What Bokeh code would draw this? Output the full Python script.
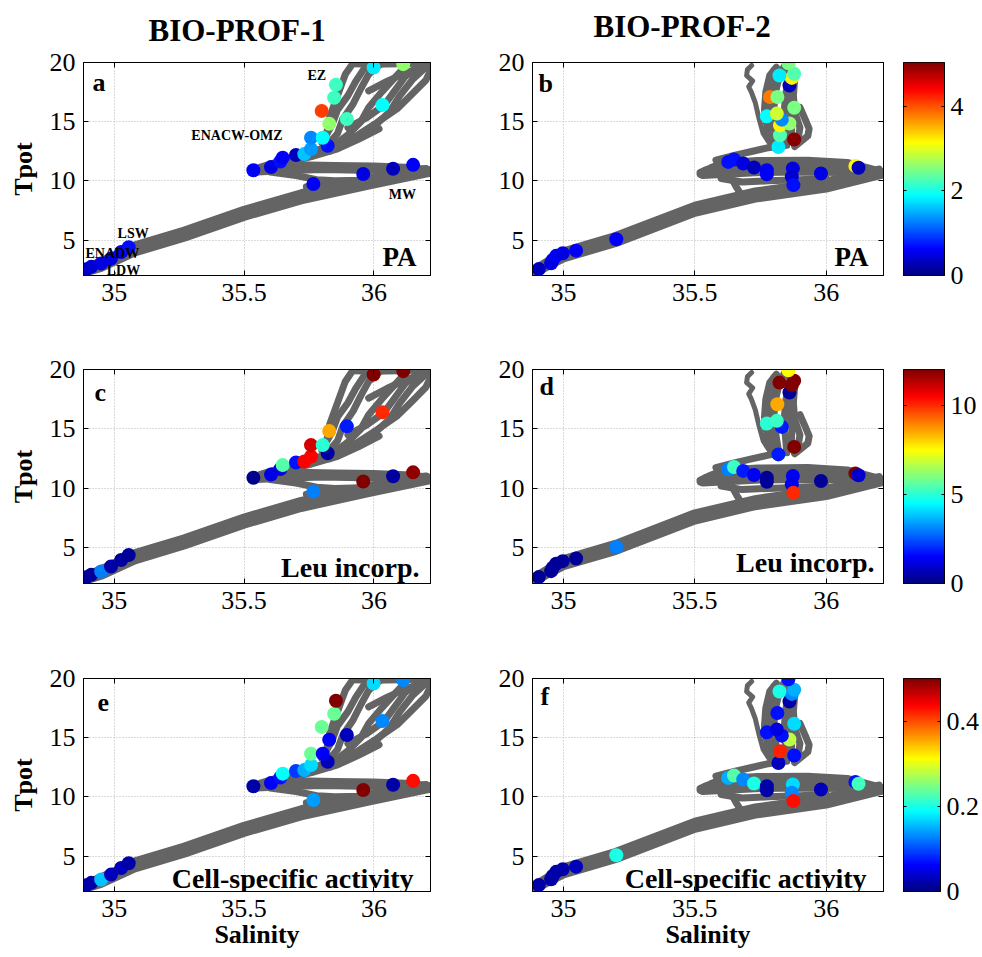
import numpy as np
from bokeh.plotting import figure
from bokeh.models import (Range1d, FixedTicker, LinearAxis, Label, ColumnDataSource,
                          LinearColorMapper, CustomJSTickFormatter, Title)
from bokeh.layouts import row, column
from bokeh.transform import linear_cmap
from bokeh.embed import file_html
from bokeh.resources import INLINE

nan = float("nan")
FONT = "Liberation Serif"

# ---------------- data: discrete samples ----------------
prof1_sal = [34.892, 34.912, 34.950, 34.988, 35.027, 35.056, 35.536, 35.604, 35.640, 35.649,
             35.700, 35.732, 35.758, 35.822, 35.758, 35.803, 35.896, 35.828, 35.799, 36.033,
             35.847, 35.854, 35.999, 36.113, 35.767, 35.959, 36.074, 36.151]
prof1_tpot = [2.52, 2.73, 3.01, 3.43, 3.98, 4.39, 10.89, 11.16, 11.63, 11.96,
              12.18, 12.26, 12.68, 12.96, 13.64, 13.64, 15.22, 14.83, 15.91, 16.40,
              17.02, 18.12, 19.58, 19.86, 9.73, 10.58, 11.02, 11.35]
prof1_pa = [0.3, 0.4, 0.5, 0.5, 0.6, 0.7, 0.6, 0.5, 0.7, 0.6,
            0.3, 1.6, 1.4, 0.7, 1.3, 1.9, 2.2, 2.6, 4.1, 1.9,
            2.2, 2.2, 1.8, 2.6, 0.6, 0.5, 0.3, 0.6]
prof1_leu = [0.3, 0.3, 3.0, 0.5, 0.4, 0.3, 0.2, 1.2, 1.2, 5.5,
             1.7, 10.5, 10.5, 0.4, 11.0, 5.0, 1.8, 8.5, nan, 10.0,
             nan, nan, 12.0, 12.0, 3.0, 12.0, 0.4, 11.8]
prof1_csa = [0.02, 0.02, 0.16, 0.03, 0.03, 0.02, 0.02, 0.06, 0.07, 0.19,
             0.09, 0.15, 0.17, 0.03, 0.24, 0.06, 0.03, 0.06, 0.24, 0.13,
             0.24, 0.50, 0.17, 0.13, 0.14, 0.50, 0.02, 0.43]

prof2_sal = [34.906, 34.953, 34.959, 34.972, 34.997, 35.048, 35.201, 35.627, 35.649, 35.684,
             35.725, 35.774, 35.774, 35.873, 35.869, 35.875, 35.980, 36.111, 36.123, 35.818,
             35.878, 35.824, 35.824, 35.860, 35.831, 35.774, 35.812, 35.878, 35.786, 35.814,
             35.860, 35.869, 35.822, 35.878, 35.856]
prof2_tpot = [2.54, 3.04, 3.32, 3.66, 3.88, 4.10, 5.06, 11.60, 11.80, 11.47,
              11.13, 10.90, 10.56, 11.04, 10.34, 9.64, 10.62, 11.26, 11.10, 12.86,
              13.49, 13.85, 14.69, 14.84, 15.17, 15.45, 15.68, 16.18, 17.08, 17.08,
              18.06, 18.70, 18.90, 19.05, 19.94]
prof2_pa = [0.3, 0.5, 0.5, 0.6, 0.5, 0.6, 0.6, 0.7, 0.7, 0.5,
            0.3, 0.6, 0.6, 0.5, 0.4, 0.7, 0.5, 3.2, 0.3, 1.8,
            5.0, 2.3, 3.2, 2.6, 1.3, 1.9, 2.9, 2.5, 3.8, 2.5,
            0.3, 3.2, 1.8, 2.3, 2.5]
prof2_leu = [0.3, 0.3, 0.3, 0.3, 0.3, 0.3, 3.0, 3.0, 5.2, 1.8,
             1.4, 0.3, 0.3, 1.4, 1.3, 10.0, 0.3, 12.0, 0.9, 1.8,
             12.0, nan, nan, nan, 1.8, 5.0, 5.2, nan, nan, 8.5,
             0.3, 12.0, 12.0, 12.0, 7.5]
prof2_csa = [0.02, 0.02, 0.02, 0.02, 0.02, 0.03, 0.20, 0.15, 0.23, 0.13,
             0.20, 0.02, 0.02, 0.17, 0.13, 0.43, 0.03, 0.07, 0.22, 0.03,
             0.07, 0.42, nan, 0.28, 0.07, 0.07, 0.05, 0.17, nan, 0.07,
             0.02, 0.13, 0.20, 0.15, 0.07]

# ---------------- data: continuous CTD profiles (traced) ----------------
deep1_sal = [
    [34.89, 34.95, 35.08, 35.27, 35.50, 35.72, 35.98, 36.21],
    [34.90, 34.96, 35.08, 35.27, 35.50, 35.72, 35.98, 36.20],
]
deep1_tpot = [
    [2.25, 2.65, 3.95, 5.20, 6.95, 8.35, 9.60, 10.65],
    [2.75, 3.30, 4.55, 5.80, 7.55, 8.95, 10.20, 11.00],
]
ctd1_sal = [
    [35.54, 35.60, 35.70, 35.85, 36.00, 36.12, 36.21],
    [35.55, 35.65, 35.80, 35.95, 36.10, 36.21],
    [35.60, 35.70, 35.78, 35.85, 35.95, 36.05, 36.15],
    [35.74, 35.82, 35.92],
    [35.56, 35.62, 35.70, 35.78, 35.85],
    [35.66, 35.76, 35.86, 35.94, 36.02],
    [35.80, 35.82, 35.83, 35.85, 35.87, 35.89, 35.92],
    [35.81, 35.84, 35.86, 35.90, 35.93, 35.96, 36.00],
    [35.82, 35.86, 35.88, 35.92, 35.95, 35.98, 36.03],
    [35.84, 35.90, 35.95, 35.98, 36.03, 36.08, 36.13],
    [35.86, 35.95, 36.00, 36.06, 36.10, 36.15, 36.21],
    [35.90, 35.97, 36.04, 36.08, 36.12, 36.17],
    [35.83, 35.94, 36.01, 36.09, 36.15, 36.20, 36.22],
    [35.98, 36.05, 36.12, 36.18, 36.22],
    [35.92, 36.00, 36.10, 36.20],
]
ctd1_tpot = [
    [10.95, 11.25, 11.35, 11.30, 11.25, 11.15, 10.95],
    [10.75, 10.85, 10.95, 10.90, 10.85, 10.80],
    [10.75, 10.45, 10.10, 10.00, 10.05, 10.30, 10.55],
    [9.50, 9.75, 10.00],
    [11.15, 11.55, 12.05, 12.60, 13.00],
    [11.55, 12.05, 12.70, 13.50, 14.40],
    [13.20, 14.20, 15.40, 16.60, 17.80, 19.00, 19.95],
    [13.60, 14.80, 16.00, 17.20, 18.40, 19.40, 19.95],
    [13.00, 14.00, 15.20, 16.50, 17.80, 19.00, 19.95],
    [12.90, 13.90, 15.00, 16.20, 17.50, 18.70, 19.90],
    [12.80, 13.80, 14.60, 15.80, 17.20, 18.60, 19.80],
    [14.50, 15.30, 16.40, 17.60, 18.80, 19.60],
    [12.50, 13.90, 14.90, 16.10, 17.40, 18.50, 19.40],
    [17.60, 18.40, 19.10, 19.60, 19.90],
    [19.90, 19.85, 19.90, 19.95],
]
deep2_sal = [
    [34.89, 35.00, 35.20, 35.50, 35.73, 36.00, 36.21],
    [34.91, 35.00, 35.20, 35.50, 35.73, 36.00, 36.20],
]
deep2_tpot = [
    [2.20, 3.45, 4.75, 7.30, 8.50, 9.35, 10.50],
    [2.80, 4.05, 5.35, 7.90, 9.10, 9.95, 10.95],
]
ctd2_sal = [
    [35.52, 35.56, 35.61, 35.74, 35.93, 36.08, 36.16, 36.21],
    [35.54, 35.65, 35.80, 35.95, 36.10],
    [35.52, 35.60, 35.75, 35.90, 36.05, 36.18],
    [35.53, 35.62, 35.75, 35.90, 36.05, 36.20],
    [35.60, 35.68, 35.78, 35.90, 36.00],
    [35.64, 35.66, 35.68],
    [35.58, 35.65, 35.72, 35.78, 35.84],
    [35.79, 35.775, 35.765, 35.77, 35.785, 35.81],
    [35.80, 35.79, 35.785, 35.79, 35.80],
    [35.82, 35.81, 35.80, 35.805, 35.82, 35.84],
    [35.85, 35.845, 35.84, 35.845, 35.855, 35.86],
    [35.865, 35.87, 35.86, 35.865],
    [35.89, 35.90, 35.88, 35.875, 35.88],
    [35.88, 35.93, 35.935, 35.92, 35.90],
]
ctd2_tpot = [
    [10.70, 11.10, 11.55, 11.72, 11.75, 11.55, 11.10, 10.80],
    [10.90, 11.45, 11.50, 11.50, 11.40],
    [10.55, 11.00, 11.20, 11.25, 11.15, 10.85],
    [10.45, 10.55, 10.70, 10.75, 10.70, 10.65],
    [10.20, 9.90, 10.00, 10.10, 10.20],
    [10.20, 9.40, 8.70],
    [11.75, 12.15, 12.50, 12.80, 13.00],
    [13.00, 14.50, 16.00, 17.50, 18.90, 19.60],
    [13.50, 15.00, 16.50, 18.00, 19.30],
    [12.90, 14.30, 15.80, 17.30, 18.70, 19.70],
    [13.00, 14.30, 15.80, 17.20, 18.60, 19.50],
    [13.30, 15.00, 16.50, 18.00],
    [13.20, 14.50, 15.80, 17.20, 18.60],
    [12.90, 13.80, 14.40, 15.20, 16.20],
]
hook2_sal = [35.716, 35.700, 35.697, 35.720, 35.705, 35.715, 35.730, 35.745, 35.760, 35.780]
hook2_tpot = [19.75, 19.40, 18.90, 18.45, 17.95, 17.50, 16.60, 15.20, 14.00, 13.30]

sal_ticks = [35, 35.5, 36]
tpot_ticks = [5, 10, 15, 20]
pa_ticks, leu_ticks, csa_ticks = [0, 2, 4], [0, 5, 10], [0, 0.2, 0.4]
pa_max, leu_max, csa_max = 5.04, 12.0, 0.5
col_titles = ["BIO-PROF-1", "BIO-PROF-2"]
panel_letters = ["a", "b", "c", "d", "e", "f"]
var_names = ["PA", "PA", "Leu incorp.", "Leu incorp.", "Cell-specific activity", "Cell-specific activity"]
water_masses = ["EZ", "ENACW-OMZ", "MW", "LSW", "LDW"]
wm_sal = [35.78, 35.473, 36.11, 35.073, 35.036]
wm_tpot = [18.9, 13.8, 8.84, 5.53, 2.45]


def jet(n=256):
    out = []
    for i in range(n):
        x = i / (n - 1)
        r = min(max(1.5 - abs(4 * x - 3), 0), 1)
        g = min(max(1.5 - abs(4 * x - 2), 0), 1)
        b = min(max(1.5 - abs(4 * x - 1), 0), 1)
        out.append("#%02x%02x%02x" % (round(r * 255), round(g * 255), round(b * 255)))
    return out


JET = jet()
FMT = CustomJSTickFormatter(code="return String(tick);")
X_RANGE = (34.882, 36.218)
Y_RANGE = (2.0, 20.0)
GRAY = "#646464"


def style_axis(ax, ticks, show_labels=True, standoff=8, tick_in=5):
    ax.ticker = FixedTicker(ticks=ticks)
    ax.formatter = FMT
    ax.major_tick_in = tick_in
    ax.major_tick_out = 0
    ax.minor_tick_line_color = None
    ax.axis_line_color = "black"
    ax.major_tick_line_color = "black"
    ax.major_label_text_font = FONT
    ax.axis_label_text_color = "black"
    if show_labels:
        ax.major_label_text_color = "black"
        ax.major_label_text_font_size = "26px"
        ax.major_label_standoff = standoff
    else:
        ax.major_label_text_color = None
        ax.major_label_text_font_size = "1px"
        ax.major_label_standoff = 0


def spacer_axis(extent):
    # an invisible (white) outward tick at the frame corner reserves room under the title
    ax = LinearAxis(ticker=FixedTicker(ticks=[36.21]), formatter=FMT)
    ax.major_tick_in = 0
    ax.major_tick_out = extent
    ax.axis_line_color = None
    ax.major_tick_line_color = "white"
    ax.minor_tick_line_color = None
    ax.major_label_text_color = None
    ax.major_label_text_font_size = "1px"
    ax.major_label_standoff = 0
    return ax


def panel(w, h, bl, br, bt, bb, deep, ctd, sal, tpot, vals, vmax, ylabel, hook=None):
    p = figure(width=w, height=h, x_range=Range1d(*X_RANGE), y_range=Range1d(*Y_RANGE),
               output_backend="svg", toolbar_location=None, title=None,
               min_border_left=bl, min_border_right=br, min_border_top=bt, min_border_bottom=bb)
    p.outline_line_color = "black"
    p.background_fill_color = "white"
    p.border_fill_color = "white"
    style_axis(p.below[0], sal_ticks)
    style_axis(p.left[0], tpot_ticks)
    if ylabel:
        p.left[0].axis_label = ylabel
        p.left[0].axis_label_text_font = FONT
        p.left[0].axis_label_text_font_size = "26px"
        p.left[0].axis_label_text_font_style = "bold"
        p.left[0].axis_label_text_color = "black"
        p.left[0].axis_label_standoff = 9
    top = LinearAxis()
    style_axis(top, sal_ticks, show_labels=False)
    p.add_layout(top, "above")
    right = LinearAxis()
    style_axis(right, tpot_ticks, show_labels=False)
    p.add_layout(right, "right")
    p.xgrid.ticker = FixedTicker(ticks=sal_ticks)
    p.ygrid.ticker = FixedTicker(ticks=tpot_ticks)
    for g in (p.xgrid, p.ygrid):
        g.grid_line_color = "#b4b4b4"
        g.grid_line_dash = "1 2"
        g.grid_line_width = 1

    p.multi_line(xs=deep[0], ys=deep[1], line_color=GRAY, line_width=8,
                 line_join="round", line_cap="round")
    p.multi_line(xs=ctd[0], ys=ctd[1], line_color=GRAY, line_width=7,
                 line_join="round", line_cap="round")
    if hook is not None:
        p.line(hook[0], hook[1], line_color=GRAY, line_width=5, line_join="round", line_cap="round")

    keep = [i for i, v in enumerate(vals) if not np.isnan(v)]
    src = ColumnDataSource(dict(s=[sal[i] for i in keep], t=[tpot[i] for i in keep],
                                v=[vals[i] for i in keep]))
    p.scatter("s", "t", source=src, size=14, marker="circle", line_color=None,
              fill_color=linear_cmap("v", JET, 0, vmax))
    return p


def add_text(p, text, x, y, size, align="left", baseline="middle", xo=0):
    p.add_layout(Label(x=x, y=y, text=text, text_font=FONT, text_font_size=size,
                       text_font_style="bold", text_align=align, text_baseline=baseline,
                       x_offset=xo, text_color="black"))


def cbar(w, h, bl, br, bt, bb, vmax, ticks):
    c = figure(width=w, height=h, x_range=Range1d(0, 1), y_range=Range1d(0, vmax),
               output_backend="svg", toolbar_location=None, title=None,
               x_axis_location=None, y_axis_location="right",
               min_border_left=bl, min_border_right=br, min_border_top=bt, min_border_bottom=bb)
    c.outline_line_color = "black"
    c.border_fill_color = "white"
    c.grid.visible = False
    mapper = LinearColorMapper(palette=JET, low=0, high=vmax)
    c.image(image=[np.linspace(0, vmax, 256).reshape(256, 1)], x=0, y=0, dw=1, dh=vmax,
            color_mapper=mapper)
    style_axis(c.right[0], ticks, standoff=6, tick_in=3)
    left = LinearAxis()
    style_axis(left, ticks, show_labels=False, tick_in=3)
    c.add_layout(left, "left")
    return c


# ---------------- layout (page has no margin: origin at 0,0) ----------------
rows_cfg = [
    # (height, (L top, L frame h), (R top, R frame h))
    (320, (58, 217), (62, 213)),
    (310, (48, 216), (49, 214)),
    (327, (48, 213), (44, 217)),
]
vals_cfg = [
    (prof1_pa, prof2_pa, pa_max, pa_ticks),
    (prof1_leu, prof2_leu, leu_max, leu_ticks),
    (prof1_csa, prof2_csa, csa_max, csa_ticks),
]
letter_xo = [9, 6, 11, 7, 14, 8]
letter_px = [20.2, 20.9, 22.8, 17.2, 23.5, 18.6]       # px below frame top (text middle)
var_xo = [-14, -15, -11, -9, -17, -17]
var_px = [19.0, 19.0, 16.5, 21.5, 13.5, 13.5]          # px above frame bottom (text middle)
var_size = ["27px", "27px", "28px", "28px", "28px", "28px"]
title_off = [65, 61]
title_gap = [14, 18]

rows = []
for r, ((H, (lt, lh), (rt, rh)), (v1, v2, vmax, ticks)) in enumerate(zip(rows_cfg, vals_cfg)):
    pl = panel(470, H, 83, 40, lt, H - lt - lh, (deep1_sal, deep1_tpot), (ctd1_sal, ctd1_tpot),
               prof1_sal, prof1_tpot, v1, vmax, "Tpot")
    pr = panel(423, H, 62, 10, rt, H - rt - rh, (deep2_sal, deep2_tpot), (ctd2_sal, ctd2_tpot),
               prof2_sal, prof2_tpot, v2, vmax, None, hook=(hook2_sal, hook2_tpot))
    cb = cbar(89, H, 10, 38, rt, H - rt - rh, vmax, ticks)
    for k, (p, fh) in enumerate(((pl, lh), (pr, rh))):
        idx = 2 * r + k
        ppu = fh / (Y_RANGE[1] - Y_RANGE[0])
        add_text(p, panel_letters[idx], X_RANGE[0], Y_RANGE[1] - letter_px[idx] / ppu, "26px",
                 xo=letter_xo[idx])
        add_text(p, var_names[idx], X_RANGE[1], Y_RANGE[0] + var_px[idx] / ppu, var_size[idx],
                 align="right", xo=var_xo[idx])
        if r == 0:
            p.add_layout(spacer_axis(title_gap[k]), "above")
            p.add_layout(Title(text=col_titles[k], align="left", offset=title_off[k],
                               standoff=2, text_font=FONT, text_font_size="31px",
                               text_font_style="bold", text_color="black"), "above")
        if r == 2:
            ax = p.below[0]
            ax.axis_label = "Salinity"
            ax.axis_label_text_font = FONT
            ax.axis_label_text_font_size = "26px"
            ax.axis_label_text_font_style = "bold"
            ax.axis_label_text_color = "black"
            ax.axis_label_standoff = 0
    if r == 0:
        for name, s, t in zip(water_masses, wm_sal, wm_tpot):
            add_text(pl, name, s, t, "14px", align="center")
        add_text(pl, "ENADW", X_RANGE[0], 3.84, "14px", xo=2)
    rows.append(row(pl, pr, cb))

layout = column(*rows)
open("out.html", "w").write(file_html(layout, INLINE))
